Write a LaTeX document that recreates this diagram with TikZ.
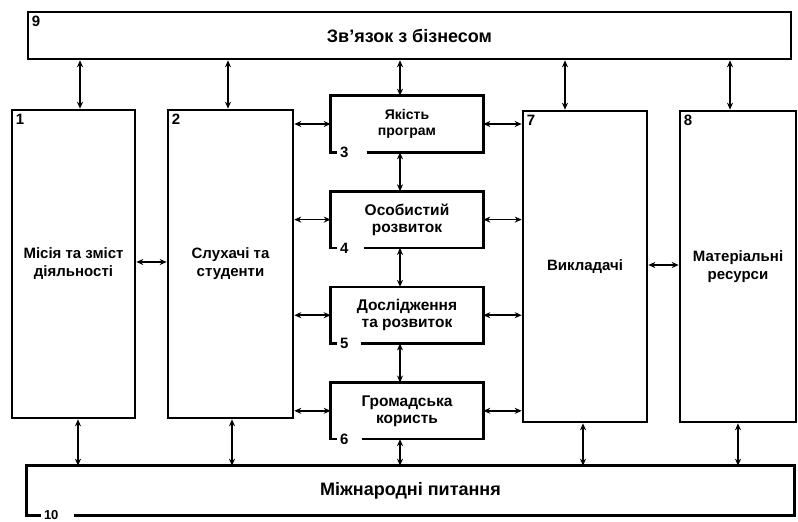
\documentclass[tikz,border=0pt]{standalone}
\usepackage{fontspec}
\setsansfont{Liberation Sans}
\usetikzlibrary{arrows.meta,positioning}

\begin{document}
\begin{tikzpicture}[x=1pt,y=-1pt,node distance=39pt,
  box/.style={line width=2.6pt, align=center, inner sep=2pt,
              font=\sffamily\bfseries\fontsize{15}{18}\selectfont},
  frame/.style={box, draw},
  part/.style={box, minimum width=150pt, minimum height=54pt,
               font=\sffamily\bfseries\fontsize{15.5}{17}\selectfont},
  num/.style={inner sep=2pt, font=\sffamily\bfseries\fontsize{15}{15}\selectfont},
  edge/.style={line width=2.6pt},
  link/.style={{Stealth[length=7pt,width=6pt]}-{Stealth[length=7pt,width=6pt]},
               line width=1.6pt}]
  \useasboundingbox (0,0) rectangle (798,522);

  \node[frame, minimum width=763pt, minimum height=47pt,
        font=\sffamily\bfseries\fontsize{18}{20}\selectfont] (b9) at (409.5,35.5) {Зв'язок з бізнесом};
  \node[frame, minimum width=123pt, minimum height=308pt] (b1) at (73.5,264) {Місія та зміст\\діяльності};
  \node[frame, minimum width=125pt, minimum height=308pt] (b2) at (230.5,264) {Слухачі та\\студенти};
  \node[frame, minimum width=124pt, minimum height=311pt] (b7) at (585,266.5) {Викладачі};
  \node[frame, minimum width=116pt, minimum height=311pt] (b8) at (738,266.5) {Матеріальні\\ресурси};

  \node[part, font=\sffamily\bfseries\fontsize{14}{16}\selectfont] (b3) at (407,124) {Якість\\програм};
  \node[part, below=of b3] (b4) {Особистий\\розвиток};
  \node[part, below=of b4] (b5) {Дослідження\\та розвиток};
  \node[part, below=of b5] (b6) {Громадська\\користь};

  \node[box, minimum width=765pt, minimum height=47pt,
        font=\sffamily\bfseries\fontsize{18}{20}\selectfont] (b10) at (410.5,490.5) {Міжнародні питання};

  \foreach \b/\n/\s in {b3/3/36,b4/4/33,b5/5/30,b6/6/31}
    \draw[edge] ([xshift=\s pt]\b.south west) -- (\b.south east) -- (\b.north east)
      -- (\b.north west) -- (\b.south west) -- ++(6,0) node[num, anchor=west] {\n};
  \draw[edge] ([xshift=47pt]b10.south west) -- (b10.south east) -- (b10.north east)
    -- (b10.north west) -- (b10.south west) -- ++(14,0)
    node[num, anchor=west, font=\sffamily\bfseries\fontsize{13}{13}\selectfont] {10};

  \foreach \b/\n in {b9/9,b1/1,b2/2,b7/7,b8/8}
    \node[num, anchor=north west] at ([xshift=3pt,yshift=-3pt]\b.north west) {\n};

  \foreach \x/\b in {80/b1,228/b2,400/b3,565/b7,730/b8}
    \draw[link] (b9.south -| \x,0) -- (\b.north -| \x,0);
  \foreach \x/\b in {78/b1,232/b2,400/b6,583/b7,738/b8}
    \draw[link] (\b.south -| \x,0) -- (b10.north -| \x,0);
  \foreach \a/\c in {b3/b4,b4/b5,b5/b6}
    \draw[link] (\a.south -| 400,0) -- (\c.north -| 400,0);
  \foreach \b in {b3,b4,b5,b6} {
    \draw[link] (b2.east |- \b.west) -- (\b.west);
    \draw[link] (\b.east) -- (b7.west |- \b.east);
  }
  \draw[link] (b1.east |- 0,262) -- (b2.west |- 0,262);
  \draw[link] (b7.east |- 0,265) -- (b8.west |- 0,265);
\end{tikzpicture}
\end{document}
